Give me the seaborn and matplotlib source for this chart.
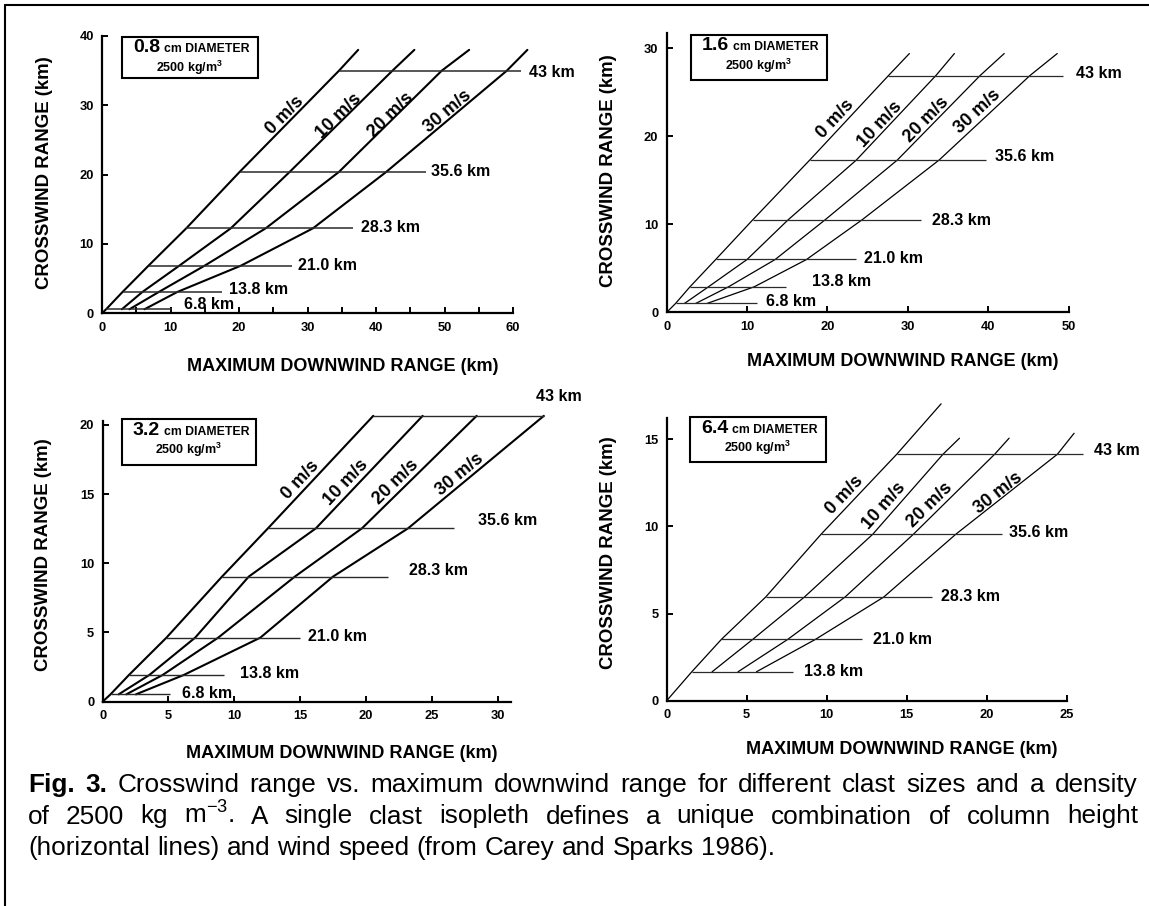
import math
import numpy as np
import pandas as pd
import matplotlib
matplotlib.use("Agg")
import matplotlib.pyplot as plt
import seaborn as sns
from matplotlib.lines import Line2D
from matplotlib.patches import Rectangle

# ------------------------------------------------------------------ data
wind_speeds = ["0 m/s", "10 m/s", "20 m/s", "30 m/s"]

# Panel 1 : 0.8 cm
p1_heights = ["6.8 km", "13.8 km", "21.0 km", "28.3 km", "35.6 km", "43 km"]
p1_crosswind = [0.58, 3.08, 6.88, 12.26, 20.4, 35.0]
p1_w0 = [0.6, 3.0, 6.8, 12.3, 20.1, 34.6]
p1_w10 = [2.9, 5.9, 11.3, 18.8, 27.4, 42.4]
p1_w20 = [4.0, 8.3, 15.0, 23.9, 34.6, 49.6]
p1_w30 = [6.2, 11.0, 20.3, 30.8, 41.5, 59.1]
p1_top_down = [37.4, 45.6, 53.6, 62.1]
p1_top_cross = [38.0, 38.0, 38.0, 38.0]
p1_line_end = [10.2, 17.5, 27.8, 36.7, 47.3, 61.1]

# Panel 2 : 1.6 cm
p2_heights = ["6.8 km", "13.8 km", "21.0 km", "28.3 km", "35.6 km", "43 km"]
p2_crosswind = [1.0, 2.9, 6.0, 10.5, 17.3, 26.9]
p2_w0 = [1.1, 2.9, 6.1, 10.7, 17.8, 27.6]
p2_w10 = [2.2, 5.2, 10.0, 15.1, 23.6, 33.5]
p2_w20 = [3.6, 7.7, 13.5, 19.7, 28.7, 39.0]
p2_w30 = [5.0, 10.9, 17.4, 24.3, 33.9, 45.2]
p2_top_down = [30.2, 35.8, 42.0, 48.6]
p2_top_cross = [29.4, 29.4, 29.4, 29.4]
p2_line_end = [11.2, 14.8, 23.6, 31.6, 39.7, 49.3]

# Panel 3 : 3.2 cm
p3_heights = ["6.8 km", "13.8 km", "21.0 km", "28.3 km", "35.6 km", "43 km"]
p3_crosswind = [0.53, 1.93, 4.63, 9.04, 12.53, 20.65]
p3_w0 = [0.6, 2.0, 4.85, 9.07, 12.56, 20.55]
p3_w10 = [1.22, 3.55, 7.03, 11.1, 16.2, 24.3]
p3_w20 = [1.80, 4.56, 8.78, 14.6, 19.7, 28.4]
p3_w30 = [2.53, 6.16, 11.98, 17.5, 23.2, 33.5]
p3_top_down = []
p3_top_cross = []
p3_line_end = [5.1, 9.2, 15.0, 21.7, 26.7, 33.5]

# Panel 4 : 6.4 cm
p4_heights = ["13.8 km", "21.0 km", "28.3 km", "35.6 km", "43 km"]
p4_crosswind = [1.66, 3.52, 5.95, 9.55, 14.14]
p4_w0 = [1.57, 3.42, 6.19, 9.65, 14.38]
p4_w10 = [2.84, 5.38, 8.61, 12.88, 17.27]
p4_w20 = [4.46, 7.57, 11.15, 15.42, 20.5]
p4_w30 = [5.61, 9.30, 13.57, 18.07, 24.42]
p4_top_down = [17.15, 18.3, 21.4, 25.46]
p4_top_cross = [17.03, 15.06, 15.06, 15.34]
p4_line_end = [7.92, 12.19, 16.57, 20.96, 26.0]

diameters = ["0.8", "1.6", "3.2", "6.4"]

x_ticks = [[0, 10, 20, 30, 40, 50, 60], [0, 10, 20, 30, 40, 50],
           [0, 5, 10, 15, 20, 25, 30], [0, 5, 10, 15, 20, 25]]
y_ticks = [[0, 10, 20, 30, 40], [0, 10, 20, 30],
           [0, 5, 10, 15, 20], [0, 5, 10, 15]]

caption_l1 = "Fig. 3. Crosswind range vs. maximum downwind range for different clast sizes and a density"
caption_l2 = "of 2500 kg m$^{-3}$. A single clast isopleth defines a unique combination of column height"
caption_l3 = "(horizontal lines) and wind speed (from Carey and Sparks 1986)."

# ------------------------------------------------------------------ layout
W, H = 1149, 906
panels = [
    dict(heights=p1_heights, cross=p1_crosswind, down=[p1_w0, p1_w10, p1_w20, p1_w30],
         top_down=p1_top_down, top_cross=p1_top_cross, line_end=p1_line_end,
         px=(102, 513, 313.3, 36), xlim=(0, 60), ylim=(0, 40), minor_x=5,
         hlabel=[(12.0, 1.2), (18.6, 3.37), (28.6, 6.88), (37.8, 12.4), (48.1, 20.4), (62.4, 34.7)],
         wlabel=[(26.7, 28.6), (34.6, 28.4), (42.1, 28.6), (50.5, 29.1)],
         xlab=(343, 366.7), ylab=(44.4, 172.5), box=(122, 37, 258, 78),
         lw=1.5, hlw=1.1),
    dict(heights=p2_heights, cross=p2_crosswind, down=[p2_w0, p2_w10, p2_w20, p2_w30],
         top_down=p2_top_down, top_cross=p2_top_cross, line_end=p2_line_end,
         px=(666.7, 1068.5, 312.3, 33.3), xlim=(0, 50), ylim=(0, 31.7), minor_x=None,
         hlabel=[(12.3, 1.2), (18.1, 3.5), (24.5, 6.1), (33.0, 10.4), (40.8, 17.7), (50.9, 27.1)],
         wlabel=[(21.0, 22.0), (26.6, 21.3), (32.3, 21.9), (38.7, 22.8)],
         xlab=(903, 361.7), ylab=(608.8, 170.8), box=(691, 35, 827, 80),
         lw=0.9, hlw=0.9),
    dict(heights=p3_heights, cross=p3_crosswind, down=[p3_w0, p3_w10, p3_w20, p3_w30],
         top_down=p3_top_down, top_cross=p3_top_cross, line_end=p3_line_end,
         px=(102.6, 510.9, 701.7, 420.7), xlim=(0, 31), ylim=(0, 20.3), minor_x=None,
         hlabel=[(6.0, 0.6), (10.4, 2.05), (15.6, 4.7), (23.3, 9.5), (28.5, 13.1), (32.9, 22.05)],
         wlabel=[(15.0, 16.0), (18.5, 15.8), (22.3, 15.9), (27.1, 16.4)],
         xlab=(341.6, 753.3), ylab=(44, 555), box=(122, 419, 256, 465),
         lw=1.5, hlw=1.0),
    dict(heights=p4_heights, cross=p4_crosswind, down=[p4_w0, p4_w10, p4_w20, p4_w30],
         top_down=p4_top_down, top_cross=p4_top_cross, line_end=p4_line_end,
         px=(666.7, 1066.7, 700.7, 418.3), xlim=(0, 25), ylim=(0, 16.2), minor_x=None,
         hlabel=[(8.6, 1.66), (12.9, 3.52), (17.15, 6.0), (21.4, 9.64), (26.7, 14.33)],
         wlabel=[(11.15, 11.8), (13.57, 11.17), (16.46, 11.23), (20.73, 11.9)],
         xlab=(901.5, 750), ylab=(608.8, 552.5), box=(690, 417, 826, 462),
         lw=0.9, hlw=0.9),
]

sns.set_theme(style="ticks")
plt.rcParams['font.family'] = ['Liberation Sans', 'DejaVu Sans']
plt.rcParams['mathtext.default'] = 'regular'
plt.rcParams.update({'text.color': 'black', 'axes.labelcolor': 'black',
                     'xtick.color': 'black', 'ytick.color': 'black',
                     'axes.edgecolor': 'black'})

fig = plt.figure(figsize=(W / 100, H / 100), dpi=100)
fig.patch.set_facecolor('white')


def fx(px):
    return px / W


def fy(py):
    return 1 - py / H


def seg_angle(ax, xs, ys, yq):
    pts = list(zip(xs, ys))
    for (xa, ya), (xb, yb) in zip(pts[:-1], pts[1:]):
        if min(ya, yb) <= yq <= max(ya, yb) and ya != yb:
            break
    a = ax.transData.transform((xa, ya))
    b = ax.transData.transform((xb, yb))
    return math.degrees(math.atan2(b[1] - a[1], b[0] - a[0]))


for i, p in enumerate(panels):
    x0, x1, yb, yt = p['px']
    ax = fig.add_axes([fx(x0), fy(yb), fx(x1) - fx(x0), fy(yt) - fy(yb)])
    ax.set_facecolor('none')
    ax.set_xlim(*p['xlim'])
    ax.set_ylim(*p['ylim'])
    for s in ['top', 'right']:
        ax.spines[s].set_visible(False)
    for s in ['left', 'bottom']:
        ax.spines[s].set_linewidth(1.6)
        ax.spines[s].set_color('black')

    # wind-speed isopleths
    for k, w in enumerate(wind_speeds):
        xs = list(p['down'][k])
        ys = list(p['cross'])
        if k == 0:
            xs = [0.0] + xs
            ys = [0.0] + ys
        if p['top_down']:
            xs = xs + [p['top_down'][k]]
            ys = ys + [p['top_cross'][k]]
        df = pd.DataFrame({'downwind': xs, 'crosswind': ys})
        sns.lineplot(data=df, x='downwind', y='crosswind', ax=ax, sort=False,
                     estimator=None, color='black', lw=p['lw'])
        ax.lines[-1].set_clip_on(False)
        ax.lines[-1].set_solid_joinstyle('round')

    # column-height lines
    for j, h in enumerate(p['heights']):
        ax.hlines(p['cross'][j], p['down'][0][j], p['line_end'][j],
                  color='#2a2a2a', lw=p['hlw'], clip_on=False)
        lx, ly = p['hlabel'][j]
        ax.text(lx, ly, h, ha='left', va='center', fontsize=11.5,
                fontweight='bold', color='black', clip_on=False)

    # wind labels
    for k, w in enumerate(wind_speeds):
        lx, ly = p['wlabel'][k]
        xs = list(p['down'][k]) + (p['top_down'][k:k + 1] if p['top_down'] else [])
        ys = list(p['cross']) + (p['top_cross'][k:k + 1] if p['top_cross'] else [])
        ang = seg_angle(ax, xs, ys, ly)
        ax.text(lx, ly, w, ha='center', va='center', rotation=ang,
                rotation_mode='anchor', fontsize=13, fontweight='bold',
                color='black', clip_on=False)

    # ticks
    ax.set_xticks(x_ticks[i])
    ax.set_yticks(y_ticks[i])
    if p['minor_x']:
        ax.set_xticks(np.arange(p['xlim'][0], p['xlim'][1] + 0.1, p['minor_x']), minor=True)
        ax.tick_params(axis='x', which='minor', direction='in', length=4, width=1.4)
    ax.tick_params(axis='both', which='major', direction='in', length=4.5, width=1.4,
                   labelsize=9.3, pad=6, colors='black')
    for t in ax.get_xticklabels() + ax.get_yticklabels():
        t.set_fontweight('bold')

    # axis labels
    ax.set_xlabel("MAXIMUM DOWNWIND RANGE (km)", fontsize=13, fontweight='bold', color='black')
    ax.set_ylabel("CROSSWIND RANGE (km)", fontsize=13.4, fontweight='bold', color='black')
    inv = ax.transAxes.inverted()
    xl = inv.transform((p['xlab'][0], H - p['xlab'][1]))
    yl = inv.transform((p['ylab'][0], H - p['ylab'][1]))
    ax.xaxis.set_label_coords(xl[0], xl[1])
    ax.yaxis.set_label_coords(yl[0], yl[1])
    ax.xaxis.label.set_va('center')
    ax.yaxis.label.set_va('center')

    # diameter box
    bx0, by0, bx1, by1 = p['box']
    fig.add_artist(Rectangle((fx(bx0), fy(by1)), fx(bx1) - fx(bx0), fy(by0) - fy(by1),
                             transform=fig.transFigure, fill=True, facecolor='white',
                             edgecolor='black', lw=1.5))
    fig.text(fx(bx0 + 11), fy(by0 + 15.5), diameters[i], ha='left', va='baseline',
             fontsize=14, fontweight='bold', color='black')
    fig.text(fx(bx0 + 42), fy(by0 + 15.5), "cm DIAMETER", ha='left', va='baseline',
             fontsize=8.8, fontweight='bold', color='black')
    fig.text(fx((bx0 + bx1) / 2), fy(by0 + 35), "2500 kg/m$^{3}$", ha='center',
             va='baseline', fontsize=9, fontweight='bold', color='black')

# figure frame (left and top edges)
fig.add_artist(Line2D([fx(5), fx(W)], [fy(5), fy(5)], transform=fig.transFigure,
                      color='black', lw=1.5))
fig.add_artist(Line2D([fx(5), fx(5)], [fy(5), fy(H)], transform=fig.transFigure,
                      color='black', lw=1.5))

# caption, justified word by word
renderer = fig.canvas.get_renderer()
CAP_FS = 18.8
LEFT, RIGHT = 28, 1138


def place_line(words, baseline_py, justify=True):
    texts = []
    for w, bold in words:
        t = fig.text(0, fy(baseline_py), w, ha='left', va='baseline', fontsize=CAP_FS,
                     fontweight='bold' if bold else 'normal', color='black')
        texts.append(t)
    widths = [t.get_window_extent(renderer).width for t in texts]
    if justify and len(texts) > 1:
        gap = (RIGHT - LEFT - sum(widths)) / (len(texts) - 1)
    else:
        sp = fig.text(0, 0, "a a", fontsize=CAP_FS)
        spa = fig.text(0, 0, "aa", fontsize=CAP_FS)
        gap = sp.get_window_extent(renderer).width - spa.get_window_extent(renderer).width
        sp.remove()
        spa.remove()
    x = LEFT
    for t, wd in zip(texts, widths):
        t.set_x(fx(x))
        x += wd + gap


def split(line, nbold=0):
    ws = line.split(" ")
    return [(w, idx < nbold) for idx, w in enumerate(ws)]


place_line(split(caption_l1, 2), 792)
place_line(split(caption_l2), 823.5)
place_line(split(caption_l3), 855, justify=False)

fig.savefig("out.png", dpi=100, facecolor='white')
